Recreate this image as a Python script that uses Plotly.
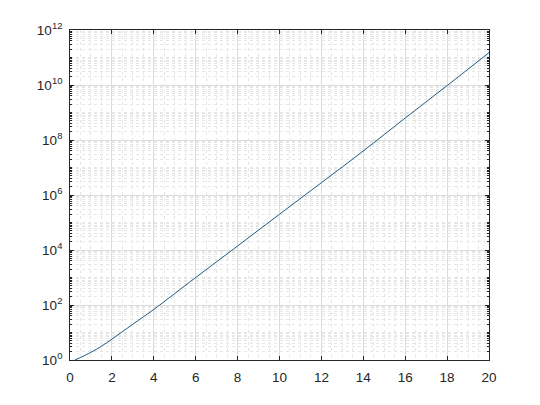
import plotly.graph_objects as go

# values
x_vals = [0.23, 0.5, 1.0, 1.5, 2.0, 2.5, 3.0, 4.0, 6.0, 8.0, 10.0, 12.0, 14.0, 16.0, 18.0, 20.0]
y_vals = [1.0, 1.23, 1.9, 3.16, 5.75, 10.7, 20.0, 69.0, 1.0e3, 1.4e4, 2.0e5, 2.8e6, 4.0e7, 6.3e8, 9.5e9, 1.5e11]
x_ticks = [0, 2, 4, 6, 8, 10, 12, 14, 16, 18, 20]
y_exponents = [0, 2, 4, 6, 8, 10, 12]
y_tick_vals = [10 ** e for e in y_exponents]
y_tick_text = ["10<sup>%d</sup>" % e for e in y_exponents]

fig = go.Figure()
fig.add_trace(go.Scatter(x=x_vals, y=y_vals, mode="lines", line_shape="spline",
                         line=dict(color="#1f5a7a", width=1.0), showlegend=False))

axis_common = dict(
    showline=True, linecolor="#262626", linewidth=0.8, mirror="allticks",
    ticks="inside", ticklen=4, tickcolor="#262626",
    showgrid=True, gridcolor="#dcdcdc", gridwidth=0.6,
    zeroline=False,
    tickfont=dict(family="Liberation Sans, Arial", size=13.5, color="#262626"),
)

fig.update_xaxes(range=[0, 20], tickvals=x_ticks, ticklabelstandoff=5,
                 minor=dict(dtick=0.5, showgrid=True, gridcolor="#e6e6e6",
                            griddash="dot", gridwidth=0.6, ticks=""),
                 **axis_common)
fig.update_yaxes(type="log", range=[0, 12], tickvals=y_tick_vals, ticktext=y_tick_text,
                 ticklabelstandoff=4,
                 minor=dict(dtick="D1", showgrid=True, gridcolor="#e6e6e6",
                            griddash="dot", gridwidth=0.6, ticks="inside",
                            ticklen=2, tickcolor="#262626"),
                 **axis_common)

fig.update_layout(width=540, height=405,
                  margin=dict(l=70, r=51, t=30, b=45),
                  paper_bgcolor="white", plot_bgcolor="white")

fig.write_html("out.html", config={"displayModeBar": False},
               post_script="document.body.style.margin='0';document.body.style.overflow='hidden';")
